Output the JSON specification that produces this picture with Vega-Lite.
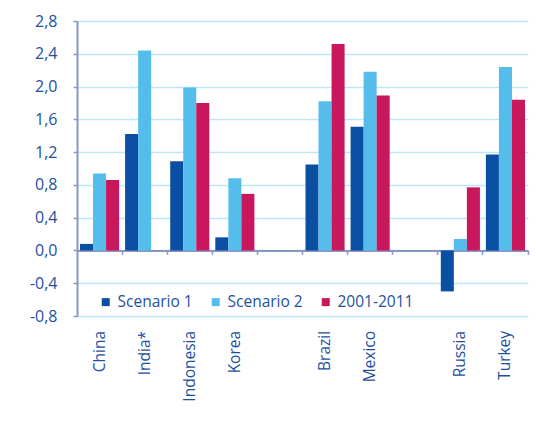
{
  "$schema": "https://vega.github.io/schema/vega-lite/v6.json",
  "width": 451,
  "height": 295,
  "autosize": {"type": "none"},
  "padding": {"left": 77, "top": 21, "right": 8, "bottom": 112},
  "background": "white",
  "config": {"view": {"stroke": null}, "font": "Open Sans"},
  "data": {
    "values": [
      {"country": "China", "series": "Scenario 1", "value": 0.08},
      {"country": "China", "series": "Scenario 2", "value": 0.94},
      {"country": "China", "series": "2001-2011", "value": 0.86},
      {"country": "India*", "series": "Scenario 1", "value": 1.42},
      {"country": "India*", "series": "Scenario 2", "value": 2.44},
      {"country": "Indonesia", "series": "Scenario 1", "value": 1.09},
      {"country": "Indonesia", "series": "Scenario 2", "value": 1.99},
      {"country": "Indonesia", "series": "2001-2011", "value": 1.8},
      {"country": "Korea", "series": "Scenario 1", "value": 0.16},
      {"country": "Korea", "series": "Scenario 2", "value": 0.88},
      {"country": "Korea", "series": "2001-2011", "value": 0.69},
      {"country": "Brazil", "series": "Scenario 1", "value": 1.05},
      {"country": "Brazil", "series": "Scenario 2", "value": 1.82},
      {"country": "Brazil", "series": "2001-2011", "value": 2.52},
      {"country": "Mexico", "series": "Scenario 1", "value": 1.51},
      {"country": "Mexico", "series": "Scenario 2", "value": 2.18},
      {"country": "Mexico", "series": "2001-2011", "value": 1.89},
      {"country": "Russia", "series": "Scenario 1", "value": -0.5},
      {"country": "Russia", "series": "Scenario 2", "value": 0.14},
      {"country": "Russia", "series": "2001-2011", "value": 0.77},
      {"country": "Turkey", "series": "Scenario 1", "value": 1.17},
      {"country": "Turkey", "series": "Scenario 2", "value": 2.24},
      {"country": "Turkey", "series": "2001-2011", "value": 1.84}
    ]
  },
  "mark": {"type": "bar"},
  "encoding": {
    "x": {
      "field": "country",
      "type": "nominal",
      "scale": {
        "domain": ["China", "India*", "Indonesia", "Korea", "gap1", "Brazil", "Mexico", "gap2", "Russia", "Turkey"],
        "paddingInner": 0,
        "paddingOuter": 0
      },
      "axis": {
        "title": null,
        "orient": "bottom",
        "offset": -65.6,
        "bandPosition": 1,
        "domainColor": "#8a96c2",
        "domainWidth": 2,
        "tickColor": "#8a96c2",
        "tickWidth": 1.5,
        "tickSize": 4,
        "labelAngle": -90,
        "labelPadding": 76,
        "labelFontSize": 15.5,
        "labelColor": "#1f50a0",
        "labelExpr": "indexof(datum.value, 'gap') == 0 ? '' : datum.value",
        "grid": false
      }
    },
    "xOffset": {
      "field": "series",
      "type": "nominal",
      "scale": {"domain": ["Scenario 1", "Scenario 2", "2001-2011"], "paddingInner": 0, "paddingOuter": 0.23}
    },
    "y": {
      "field": "value",
      "type": "quantitative",
      "scale": {"domain": [-0.8, 2.8], "nice": false, "zero": false},
      "axis": {
        "title": null,
        "values": [-0.8, -0.4, 0, 0.4, 0.8, 1.2, 1.6, 2.0, 2.4, 2.8],
        "labelExpr": "(datum.value < 0 ? '-' : '') + replace(format(abs(datum.value), '.1f'), '.', ',')",
        "grid": true,
        "gridColor": "#bde7f7",
        "gridWidth": 1.5,
        "domainColor": "#8a96c2",
        "domainWidth": 2,
        "tickColor": "#8a96c2",
        "tickWidth": 1.5,
        "tickSize": 4,
        "labelPadding": 16,
        "labelFontSize": 16,
        "labelColor": "#1f50a0"
      }
    },
    "color": {
      "field": "series",
      "type": "nominal",
      "scale": {"domain": ["Scenario 1", "Scenario 2", "2001-2011"], "range": ["#0b4fa3", "#55bdec", "#c8175d"]},
      "legend": {
        "title": null,
        "orient": "none",
        "legendX": 21,
        "legendY": 273,
        "direction": "horizontal",
        "symbolType": "square",
        "symbolSize": 64,
        "labelFontSize": 15.5,
        "labelColor": "#1f50a0",
        "labelOffset": 4,
        "columnPadding": 15
      }
    }
  }
}
